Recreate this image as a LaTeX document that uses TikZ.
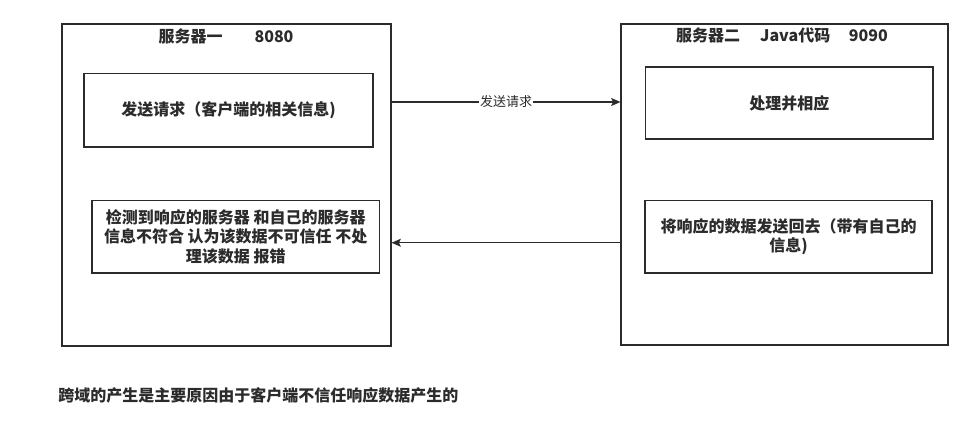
\documentclass[tikz,border=0pt]{standalone}
\usepackage{fontspec}
\setmainfont{Noto Sans CJK SC}
\usepackage{tikz}
\usetikzlibrary{positioning,arrows.meta,calc}
\definecolor{ink}{HTML}{2B2B2B}

\begin{document}
\begin{tikzpicture}[x=0.75pt, y=-0.75pt,
    server/.style={draw=ink, line width=0.8pt, fill=white, rectangle},
    stepbox/.style={draw=ink, line width=0.8pt, fill=white, rectangle, align=center,
        text=ink, font=\bfseries\fontsize{12}{14.5}\selectfont},
    title/.style={text=ink, font=\bfseries\fontsize{12}{14.5}\selectfont},
    conn/.style={draw=ink, line width=0.8pt, -{Stealth[length=7pt, width=6pt, inset=1.5pt]}},
    lbl/.style={fill=white, inner sep=0.5pt, text=ink, font=\fontsize{9.75}{11}\selectfont}]
\useasboundingbox (0,0) rectangle (973,432);

% Servers
\node[server, minimum width=246.75pt, minimum height=241.5pt] (srvA) at (226.5,185) {};
\node[server, minimum width=245.25pt, minimum height=240.75pt] (srvB) at (784.5,184.5) {};
\node[title] (titleA) at (226,36) {服务器一\hspace{24pt}8080};
\node[title] (titleB) at (782,35) {服务器二\hspace{15pt}Java代码\hspace{14pt}9090};

% Steps
\node[stepbox, minimum width=216.75pt, minimum height=55.1pt] (reqA) at (228.5,110.25) {发送请求（客户端的相关信息)};
\node[stepbox, minimum width=215.6pt, minimum height=54.4pt] (errA) at (235.75,236.75)
    {检测到响应的服务器 和自己的服务器\\信息不符合 认为该数据不可信任 不处\\理该数据 报错};
\node[stepbox, minimum width=215.6pt, minimum height=54pt] (procB) at (789.25,103) {处理并相应};
\node[stepbox, minimum width=215.25pt, minimum height=54.4pt] (sendB) at (788.5,236.75)
    {将响应的数据发送回去（带有自己的\\信息)};

% Request and response
\draw[conn] ($(srvA.east |- procB.center)+(0,-1)$) -- node[lbl] {发送请求} ($(srvB.west |- procB.center)+(0,-1)$);
\draw[conn] ($(srvB.west |- sendB.center)+(0,6)$) -- ($(srvA.east |- sendB.center)+(0,6)$);

% Note
\node[title, anchor=west, inner sep=0pt] (note) at (58,395) {跨域的产生是主要原因由于客户端不信任响应数据产生的};

\end{tikzpicture}
\end{document}
